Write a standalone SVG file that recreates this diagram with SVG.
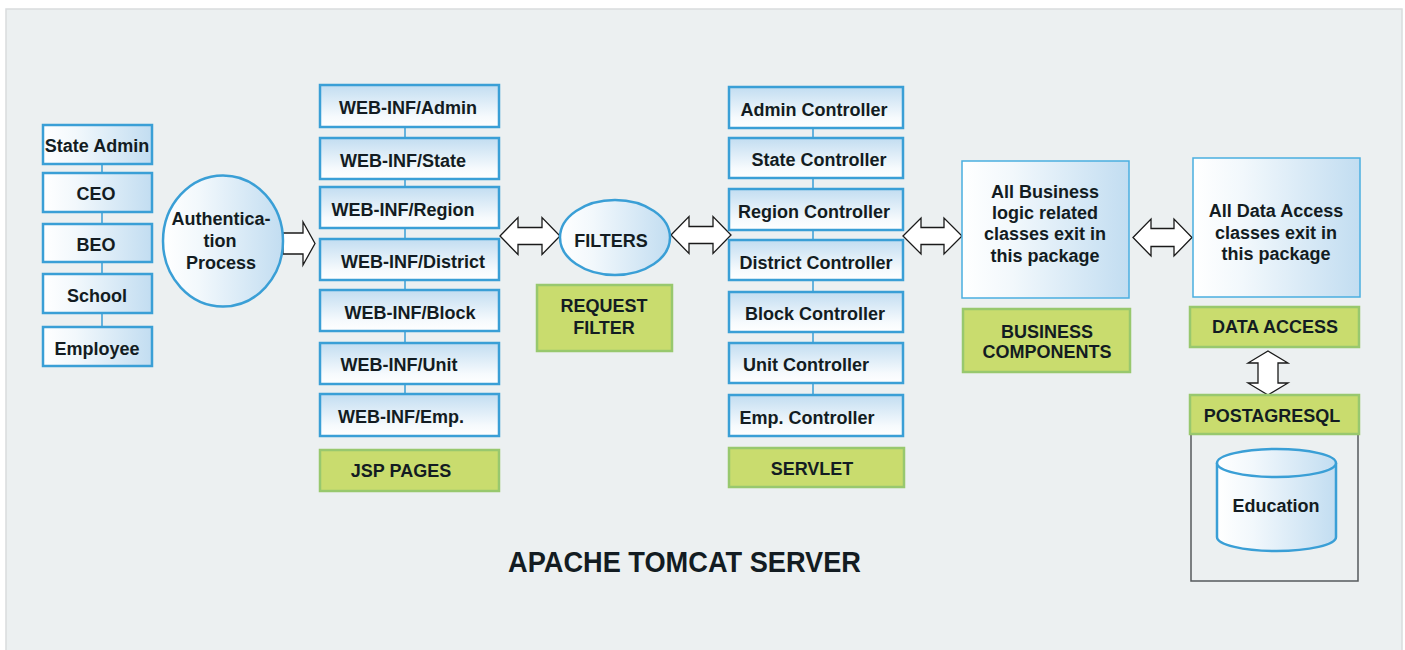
<svg xmlns="http://www.w3.org/2000/svg" width="1405" height="650" viewBox="0 0 1405 650">
<defs>
<linearGradient id="gH" x1="0" y1="0" x2="1" y2="0">
<stop offset="0" stop-color="#ffffff"/>
<stop offset="0.3" stop-color="#f2f8fc"/>
<stop offset="1" stop-color="#c2ddf1"/>
</linearGradient>
<linearGradient id="gV" x1="0" y1="0" x2="0" y2="1">
<stop offset="0" stop-color="#c2ddf1"/>
<stop offset="0.75" stop-color="#f6fafd"/>
<stop offset="1" stop-color="#ffffff"/>
</linearGradient>
<style>
.t{font-family:"Liberation Sans",Arial,sans-serif;font-weight:bold;font-size:18px;fill:#131c22;text-anchor:middle}
.bh{fill:url(#gH);stroke:#3a9fd6;stroke-width:2.5}
.bv{fill:url(#gV);stroke:#3a9fd6;stroke-width:2.5}
.pk{fill:url(#gH);stroke:#4aaee0;stroke-width:1.5}
.gr{fill:#c9dc6e;stroke:#98c86e;stroke-width:2.5}
.ln{stroke:#3a9fd6;stroke-width:1.5;fill:none}
.ar{fill:#ffffff;stroke:#1a1a1a;stroke-width:1.3;stroke-linejoin:miter}
</style>
</defs>
<rect x="6" y="9" width="1396" height="645" fill="#ecf0f1" stroke="#d9dcdd" stroke-width="1.5"/>

<g id="connectors">
<line class="ln" x1="102" y1="164" x2="102" y2="173"/>
<line class="ln" x1="102" y1="212" x2="102" y2="224"/>
<line class="ln" x1="102" y1="262" x2="102" y2="274"/>
<line class="ln" x1="102" y1="313" x2="102" y2="327"/>
<line class="ln" x1="405" y1="127" x2="405" y2="138"/>
<line class="ln" x1="405" y1="179" x2="405" y2="187"/>
<line class="ln" x1="405" y1="228" x2="405" y2="239"/>
<line class="ln" x1="405" y1="280" x2="405" y2="290"/>
<line class="ln" x1="405" y1="331" x2="405" y2="343"/>
<line class="ln" x1="405" y1="384" x2="405" y2="394"/>
<line class="ln" x1="813" y1="128" x2="813" y2="138"/>
<line class="ln" x1="813" y1="178" x2="813" y2="189"/>
<line class="ln" x1="813" y1="230" x2="813" y2="240"/>
<line class="ln" x1="813" y1="280" x2="813" y2="292"/>
<line class="ln" x1="813" y1="332" x2="813" y2="343"/>
<line class="ln" x1="813" y1="383" x2="813" y2="395"/>
<path class="ar" d="M283,233 L303,233 L303,222 L315,243.5 L303,265 L303,254 L283,254 Z"/>
<path class="ar" d="M500,236 L518,217.5 L518,227.5 L542,227.5 L542,217.5 L560,236 L542,254.5 L542,244.5 L518,244.5 L518,254.5 Z"/>
<path class="ar" d="M671,235 L689,216.5 L689,226.5 L713,226.5 L713,216.5 L731,235 L713,253.5 L713,243.5 L689,243.5 L689,253.5 Z"/>
<path class="ar" d="M903,236 L921,218 L921,227.5 L944,227.5 L944,218 L962,236 L944,254 L944,244.5 L921,244.5 L921,254 Z"/>
<path class="ar" d="M1133,237.5 L1151,219 L1151,228.5 L1174,228.5 L1174,219 L1192,237.5 L1174,256 L1174,246.5 L1151,246.5 L1151,256 Z"/>
<path class="ar" d="M1268,351 L1288,363 L1278,363 L1278,383 L1288,383 L1268,395 L1248,383 L1258,383 L1258,363 L1248,363 Z"/>
</g>

<g id="state-admin"><rect class="bh" x="43" y="125" width="109" height="39"/><text class="t" x="97" y="152">State Admin</text></g>
<g id="ceo"><rect class="bh" x="43" y="173" width="109" height="39"/><text class="t" x="96" y="199.5">CEO</text></g>
<g id="beo"><rect class="bh" x="43" y="224" width="109" height="38"/><text class="t" x="96" y="250.5">BEO</text></g>
<g id="school"><rect class="bh" x="43" y="274" width="109" height="39"/><text class="t" x="97" y="301.5">School</text></g>
<g id="employee"><rect class="bh" x="43" y="327" width="109" height="39"/><text class="t" x="97" y="354.5">Employee</text></g>

<g id="auth"><ellipse class="bh" cx="223" cy="241" rx="60" ry="65.5"/>
<text class="t" x="221" y="224.5">Authentica-</text><text class="t" x="220" y="246.5">tion</text><text class="t" x="221" y="268.5">Process</text></g>

<g id="web-admin"><rect class="bv" x="320" y="85" width="179" height="42"/><text class="t" x="408" y="113.5">WEB-INF/Admin</text></g>
<g id="web-state"><rect class="bv" x="320" y="138" width="179" height="41"/><text class="t" x="403" y="166.5">WEB-INF/State</text></g>
<g id="web-region"><rect class="bv" x="320" y="187" width="179" height="41"/><text class="t" x="403" y="215.5">WEB-INF/Region</text></g>
<g id="web-district"><rect class="bv" x="320" y="239" width="179" height="41"/><text class="t" x="413" y="267.5">WEB-INF/District</text></g>
<g id="web-block"><rect class="bv" x="320" y="290" width="179" height="41"/><text class="t" x="410" y="318.5">WEB-INF/Block</text></g>
<g id="web-unit"><rect class="bv" x="320" y="343" width="179" height="41"/><text class="t" x="399" y="370.5">WEB-INF/Unit</text></g>
<g id="web-emp"><rect class="bv" x="320" y="394" width="179" height="42"/><text class="t" x="401" y="422.5">WEB-INF/Emp.</text></g>
<g id="jsp-pages"><rect class="gr" x="320" y="450" width="179" height="41"/><text class="t" x="401" y="476.5">JSP PAGES</text></g>

<g id="filters"><ellipse class="bh" cx="615" cy="237.5" rx="55" ry="37.5"/><text class="t" x="611" y="246.5">FILTERS</text></g>
<g id="request-filter"><rect class="gr" x="537" y="285" width="135" height="66"/><text class="t" x="604" y="312">REQUEST</text><text class="t" x="604" y="333.5">FILTER</text></g>

<g id="ctl-admin"><rect class="bv" x="729" y="87" width="174" height="41"/><text class="t" x="814" y="115.5">Admin Controller</text></g>
<g id="ctl-state"><rect class="bv" x="729" y="138" width="174" height="40"/><text class="t" x="819" y="165.5">State Controller</text></g>
<g id="ctl-region"><rect class="bv" x="729" y="189" width="174" height="41"/><text class="t" x="814" y="217.5">Region Controller</text></g>
<g id="ctl-district"><rect class="bv" x="729" y="240" width="174" height="40"/><text class="t" x="816" y="268.5">District Controller</text></g>
<g id="ctl-block"><rect class="bv" x="729" y="292" width="174" height="40"/><text class="t" x="815" y="319.5">Block Controller</text></g>
<g id="ctl-unit"><rect class="bv" x="729" y="343" width="174" height="40"/><text class="t" x="806" y="370.5">Unit Controller</text></g>
<g id="ctl-emp"><rect class="bv" x="729" y="395" width="174" height="41"/><text class="t" x="807" y="423.5">Emp. Controller</text></g>
<g id="servlet"><rect class="gr" x="729" y="448" width="175" height="39"/><text class="t" x="812" y="474.5">SERVLET</text></g>

<g id="business-logic"><rect class="pk" x="962" y="161" width="167" height="137"/>
<text class="t" x="1045" y="197.5">All Business</text><text class="t" x="1045" y="219">logic related</text><text class="t" x="1045" y="240">classes exit in</text><text class="t" x="1045" y="261.5">this package</text></g>
<g id="business-components"><rect class="gr" x="963" y="309" width="167" height="63"/><text class="t" x="1047" y="337.5">BUSINESS</text><text class="t" x="1047" y="357.5">COMPONENTS</text></g>

<g id="data-access-pkg"><rect class="pk" x="1193" y="158" width="167" height="139"/>
<text class="t" x="1276" y="216.5">All Data Access</text><text class="t" x="1276" y="238.5">classes exit in</text><text class="t" x="1276" y="259.5">this package</text></g>
<g id="data-access"><rect class="gr" x="1190" y="307" width="169" height="40"/><text class="t" x="1275" y="332.5">DATA ACCESS</text></g>

<g id="postgresql">
<rect x="1191" y="434" width="167" height="147" fill="#ecf0f1" stroke="#555a5c" stroke-width="1.5"/>
<rect class="gr" x="1190" y="395" width="169" height="39"/><text class="t" x="1272" y="421.5">POSTAGRESQL</text>
<path class="bh" stroke-width="2" d="M1217,463 L1217,537 A59.5,14 0 0 0 1336,537 L1336,463"/>
<ellipse class="bh" stroke-width="2" cx="1276.5" cy="463" rx="59.5" ry="14"/>
<text class="t" x="1276" y="511.5">Education</text>
</g>

<text class="t" x="684.5" y="572" font-size="29" style="font-size:29px" textLength="353" lengthAdjust="spacingAndGlyphs">APACHE TOMCAT SERVER</text>
</svg>
